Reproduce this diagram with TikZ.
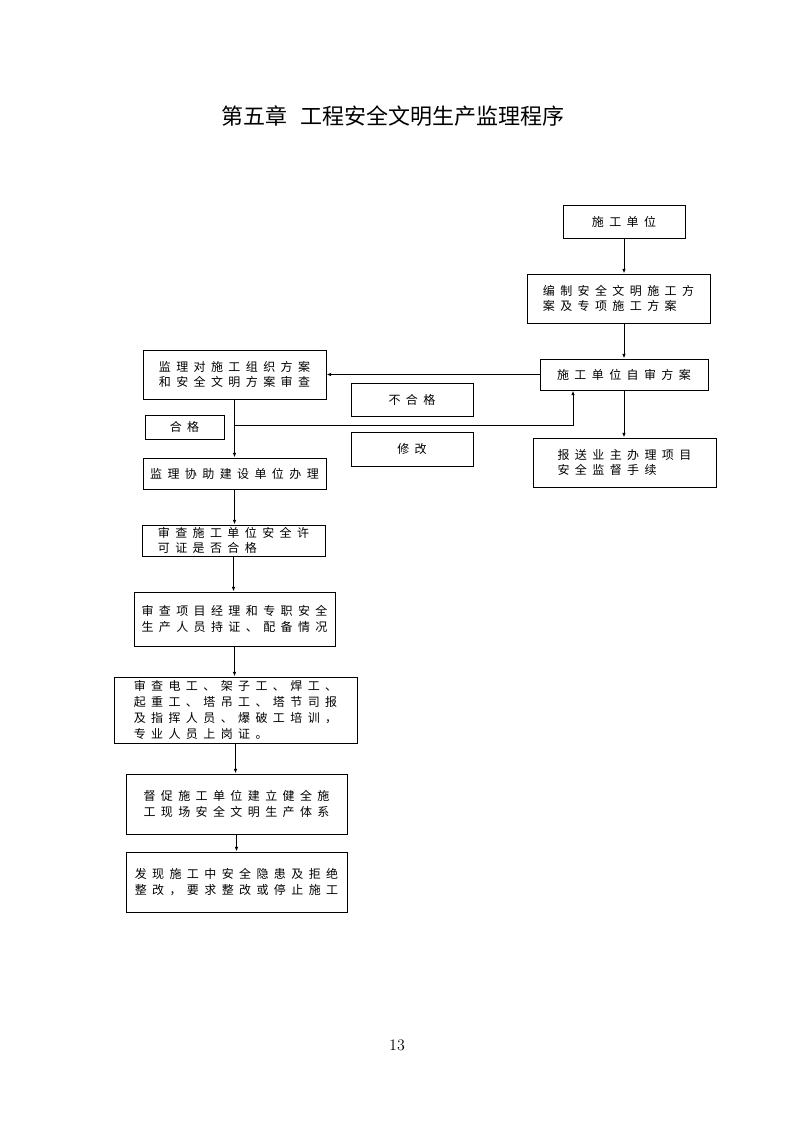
\documentclass[tikz,border=0pt]{standalone}
\usepackage{fontspec}
\usepackage{tikz}
\usetikzlibrary{arrows.meta}
\newfontfamily\cjk{Noto Sans CJK SC}
\newfontfamily\cjkbox[LetterSpace=45]{Noto Sans CJK SC}

\begin{document}
\begin{tikzpicture}[x=0.75pt,y=-0.75pt,line width=0.7pt,
  >={Latex[length=3.5pt,width=2.6pt]},
  every node/.style={draw,rectangle,inner sep=0pt,align=left,
    font=\cjkbox\fontsize{9}{11.8}\selectfont}]
  \useasboundingbox (0,0) rectangle (793,1122);
  \node[draw=none,font=\cjk\fontsize{16.5}{20}\selectfont] (title) at (393,116) {第五章\hspace{0.6em}工程安全文明生产监理程序};

  % right column
  \node (dw) at (624,221.5)[minimum width=91.5pt,minimum height=24.75pt]{施工单位};
  \node (fa) at (618.5,298.5)[minimum width=137.25pt,minimum height=36.75pt]{编制安全文明施工方\\案及专项施工方案};
  \node (zs) at (624,374.5)[minimum width=126pt,minimum height=23.25pt]{施工单位自审方案};
  \node (bs) at (624.5,462.5)[minimum width=137.25pt,minimum height=36.75pt]{报送业主办理项目\\安全监督手续};

  % middle labels
  \node (bhg) at (412,399.5)[minimum width=91.5pt,minimum height=24.75pt]{不合格};
  \node (xg) at (412,449)[minimum width=91.5pt,minimum height=25.5pt]{修改};
  \node (hg) at (184.5,427)[minimum width=59.25pt,minimum height=18pt]{合格};

  % left column
  \node (sc) at (234.5,374.5)[minimum width=137.25pt,minimum height=36.75pt]{监理对施工组织方案\\和安全文明方案审查};
  \node (xz) at (234.5,473.5)[minimum width=137.25pt,minimum height=23.25pt]{监理协助建设单位办理};
  \node (xk) at (233.5,540.5)[minimum width=137.25pt,minimum height=23.25pt]{审查施工单位安全许\\可证是否合格};
  \node (ry) at (234.5,619)[minimum width=150.75pt,minimum height=40.5pt]{审查项目经理和专职安全\\生产人员持证、配备情况};
  \node (tz) at (235.5,710)[minimum width=182.25pt,minimum height=49.5pt]{审查电工、架子工、焊工、\\起重工、塔吊工、塔节司报\\及指挥人员、爆破工培训，\\专业人员上岗证。};
  \node (tx) at (236.5,804)[minimum width=165.75pt,minimum height=45pt]{督促施工单位建立健全施\\工现场安全文明生产体系};
  \node (yh) at (236.5,882)[minimum width=165.75pt,minimum height=45pt]{发现施工中安全隐患及拒绝\\整改，要求整改或停止施工};

  \node[draw=none,font=\fontsize{12}{14}\selectfont] (page) at (397,1045){13};

  \coordinate (fork) at (234.5,425);
  \coordinate (fan) at (573,425);

  \draw[->](dw.south)--(dw.south|-fa.north);
  \draw[->](zs.north|-fa.south)--(zs.north);
  \draw[->](zs.south)--(zs.south|-bs.north);
  \draw[->](zs.west)--(sc.east);
  \draw[->](sc)--(xz);
  \draw[->](fork)--(fan)--(fan|-zs.south);
  \draw[->](xz.south)--(xz.south|-xk.north);
  \draw[->](xk.south)--(xk.south|-ry.north);
  \draw[->](ry.south)--(ry.south|-tz.north);
  \draw[->](tz.south)--(tz.south|-tx.north);
  \draw[->](tx)--(yh);
\end{tikzpicture}
\end{document}
